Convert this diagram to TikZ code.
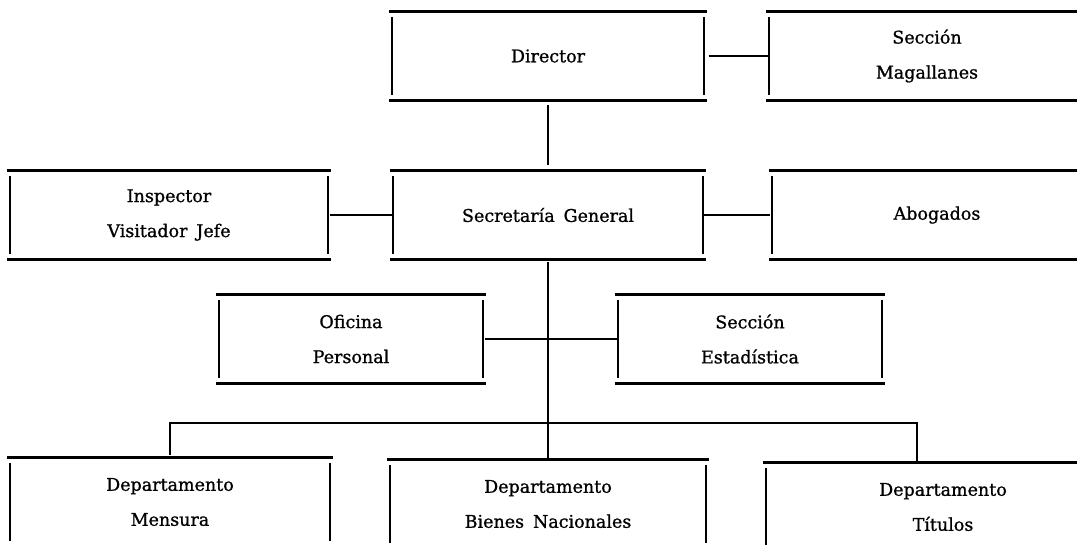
\documentclass[tikz,border=0pt]{standalone}
\usepackage{fontspec}
\setmainfont{DejaVu Serif}[WordSpace=1.6, FakeBold=1]

\begin{document}
\begin{tikzpicture}[x=1pt, y=-1pt,
    boxrule/.style={line width=2.8pt},
    boxside/.style={line width=2.2pt},
    orgbox/.style={inner sep=0pt, align=center, minimum height=88pt,
        font=\fontsize{17.5}{35}\selectfont,
        append after command={
            ([xshift=-3pt]\tikzlastnode.north west) edge[boxrule] ([xshift=3pt]\tikzlastnode.north east)
            ([xshift=-3pt]\tikzlastnode.south west) edge[boxrule] ([xshift=3pt]\tikzlastnode.south east)
            ([yshift=-5pt]\tikzlastnode.north west) edge[boxside] ([yshift=5pt]\tikzlastnode.south west)
            ([yshift=-5pt]\tikzlastnode.north east) edge[boxside] ([yshift=5pt]\tikzlastnode.south east)
        }},
    link/.style={line width=2.2pt}]
    \path[use as bounding box, clip] (0,0) rectangle (1077,544);

    \node[orgbox, minimum width=311pt] (director) at (548,56) {Director};
    \node[orgbox, minimum width=315pt] (magallanes) at (927,56) {Sección\\Magallanes};

    \node[orgbox, minimum width=318pt] (inspector) at (169,215) {Inspector\\Visitador Jefe};
    \node[orgbox, minimum width=310pt] (secretaria) at (548,215) {Secretaría General};
    \node[orgbox, minimum width=330pt] (abogados) at (937,215) {Abogados};

    \node[orgbox, minimum width=264pt] (oficina) at (351,339) {Oficina\\Personal};
    \node[orgbox, minimum width=264pt] (estadistica) at (750,339) {Sección\\Estadística};

    \node[orgbox, minimum width=320pt] (mensura) at (170,502) {Departamento\\Mensura};
    \node[orgbox, minimum width=316pt] (bienes) at (548,504) {Departamento\\Bienes Nacionales};
    \node[orgbox, minimum width=354pt] (titulos) at (943,507) {Departamento\\Títulos};

    \coordinate (hub) at (secretaria.south |- oficina.east);
    \coordinate (bus) at ([yshift=-164pt]secretaria.south);

    \draw[link, shorten <=5pt, shorten >=6pt] (director.south) -- (secretaria.north);
    \draw[link, shorten <=5pt] (director.east) -- (magallanes.west);
    \draw[link, shorten <=2pt] (inspector.east) -- (secretaria.west);
    \draw[link, shorten >=2pt] (secretaria.east) -- (abogados.west);

    \draw[link, shorten <=3pt] (secretaria.south) -- (bus);
    \draw[link, shorten <=2pt] (oficina.east) -- (hub) -- (estadistica.west);

    \draw[link, shorten <=3pt] (mensura.north) |- (bus) -| ([xshift=-26pt]titulos.north);
    \draw[link] (bus) -- (bienes.north);
\end{tikzpicture}
\end{document}
